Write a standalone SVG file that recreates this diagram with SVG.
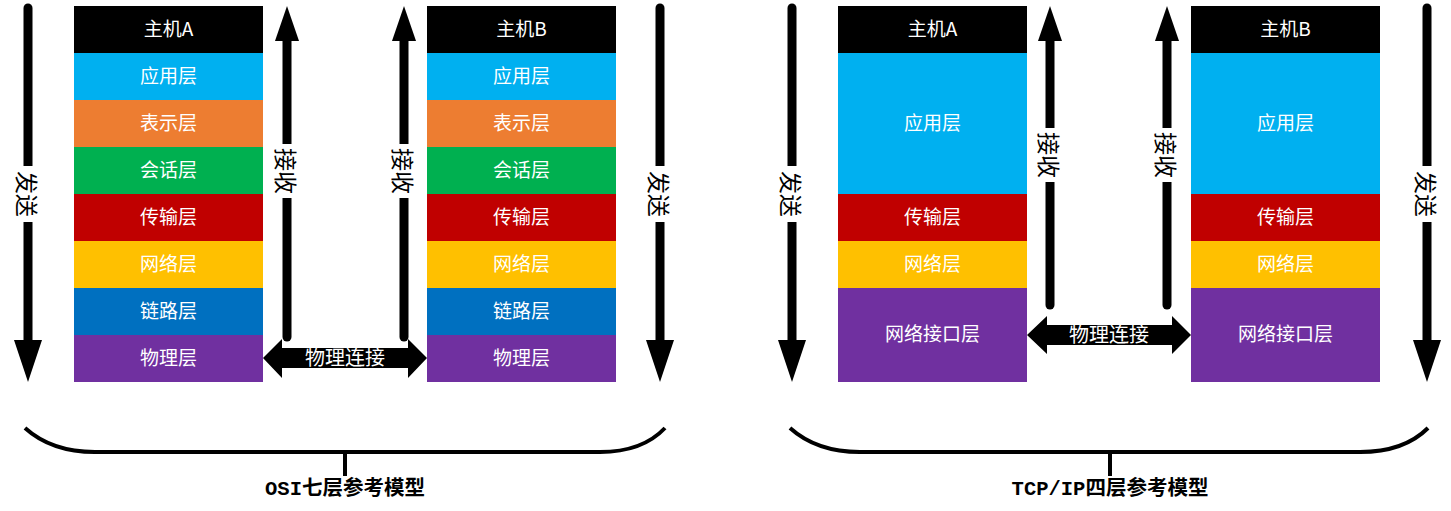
<svg xmlns="http://www.w3.org/2000/svg" width="1451" height="511" viewBox="0 0 1451 511">
<style>
.lbl{font-family:"Noto Sans CJK SC","Liberation Sans",sans-serif;font-size:19px;fill:#fff;text-anchor:middle;dominant-baseline:central}
.vt{font-family:"Noto Sans CJK SC","Liberation Sans",sans-serif;font-size:23px;fill:#000;text-anchor:middle;dominant-baseline:central}
.pl{font-family:"Noto Sans CJK SC","Liberation Sans",sans-serif;font-size:20px;fill:#fff;text-anchor:middle;dominant-baseline:central}
.cap{font-family:"Liberation Mono","Noto Sans CJK SC",monospace;font-size:20.5px;font-weight:bold;fill:#000;text-anchor:middle}
.ln{stroke:#000;stroke-width:9;stroke-linecap:round;fill:none}
.br{stroke:#000;stroke-width:4;fill:none}
</style>
<rect width="1451" height="511" fill="#fff"/>

<!-- OSI host A -->
<g id="osi-hostA">
<rect x="74" y="6" width="189" height="47" fill="#000"/><text class="lbl" x="168.5" y="27">主机A</text>
<rect x="74" y="53" width="189" height="47" fill="#00B0F0"/><text class="lbl" x="168.5" y="74">应用层</text>
<rect x="74" y="100" width="189" height="47" fill="#ED7D31"/><text class="lbl" x="168.5" y="121">表示层</text>
<rect x="74" y="147" width="189" height="47" fill="#00B050"/><text class="lbl" x="168.5" y="168">会话层</text>
<rect x="74" y="194" width="189" height="47" fill="#C00000"/><text class="lbl" x="168.5" y="215">传输层</text>
<rect x="74" y="241" width="189" height="47" fill="#FFC000"/><text class="lbl" x="168.5" y="262">网络层</text>
<rect x="74" y="288" width="189" height="47" fill="#0070C0"/><text class="lbl" x="168.5" y="309">链路层</text>
<rect x="74" y="335" width="189" height="47" fill="#7030A0"/><text class="lbl" x="168.5" y="356">物理层</text>
</g>
<!-- OSI host B -->
<g id="osi-hostB">
<rect x="427" y="6" width="189" height="47" fill="#000"/><text class="lbl" x="521.5" y="27">主机B</text>
<rect x="427" y="53" width="189" height="47" fill="#00B0F0"/><text class="lbl" x="521.5" y="74">应用层</text>
<rect x="427" y="100" width="189" height="47" fill="#ED7D31"/><text class="lbl" x="521.5" y="121">表示层</text>
<rect x="427" y="147" width="189" height="47" fill="#00B050"/><text class="lbl" x="521.5" y="168">会话层</text>
<rect x="427" y="194" width="189" height="47" fill="#C00000"/><text class="lbl" x="521.5" y="215">传输层</text>
<rect x="427" y="241" width="189" height="47" fill="#FFC000"/><text class="lbl" x="521.5" y="262">网络层</text>
<rect x="427" y="288" width="189" height="47" fill="#0070C0"/><text class="lbl" x="521.5" y="309">链路层</text>
<rect x="427" y="335" width="189" height="47" fill="#7030A0"/><text class="lbl" x="521.5" y="356">物理层</text>
</g>

<!-- TCP host A -->
<g id="tcp-hostA">
<rect x="838" y="6" width="189" height="47" fill="#000"/><text class="lbl" x="932.5" y="27">主机A</text>
<rect x="838" y="53" width="189" height="141" fill="#00B0F0"/><text class="lbl" x="932.5" y="121">应用层</text>
<rect x="838" y="194" width="189" height="47" fill="#C00000"/><text class="lbl" x="932.5" y="215">传输层</text>
<rect x="838" y="241" width="189" height="47" fill="#FFC000"/><text class="lbl" x="932.5" y="262">网络层</text>
<rect x="838" y="288" width="189" height="94" fill="#7030A0"/><text class="lbl" x="932.5" y="332">网络接口层</text>
</g>
<!-- TCP host B -->
<g id="tcp-hostB">
<rect x="1191" y="6" width="189" height="47" fill="#000"/><text class="lbl" x="1285.5" y="27">主机B</text>
<rect x="1191" y="53" width="189" height="141" fill="#00B0F0"/><text class="lbl" x="1285.5" y="121">应用层</text>
<rect x="1191" y="194" width="189" height="47" fill="#C00000"/><text class="lbl" x="1285.5" y="215">传输层</text>
<rect x="1191" y="241" width="189" height="47" fill="#FFC000"/><text class="lbl" x="1285.5" y="262">网络层</text>
<rect x="1191" y="288" width="189" height="94" fill="#7030A0"/><text class="lbl" x="1285.5" y="332">网络接口层</text>
</g>

<g id="connectors">
<!-- send arrows -->
<g id="osi-send-left">
<line class="ln" x1="28" y1="8" x2="28" y2="342"/><polygon points="14,340 42,340 28,382"/>
<rect x="18" y="166" width="20" height="56" fill="#fff"/><text class="vt" transform="translate(28,194) rotate(90)">发送</text>
</g>
<g id="osi-send-right">
<line class="ln" x1="660" y1="8" x2="660" y2="342"/><polygon points="646,340 674,340 660,382"/>
<rect x="650" y="166" width="20" height="56" fill="#fff"/><text class="vt" transform="translate(660,194) rotate(90)">发送</text>
</g>
<g id="tcp-send-left">
<line class="ln" x1="792" y1="8" x2="792" y2="342"/><polygon points="778,340 806,340 792,382"/>
<rect x="782" y="166" width="20" height="56" fill="#fff"/><text class="vt" transform="translate(792,194) rotate(90)">发送</text>
</g>
<g id="tcp-send-right">
<line class="ln" x1="1427" y1="8" x2="1427" y2="342"/><polygon points="1413,340 1441,340 1427,382"/>
<rect x="1417" y="166" width="20" height="56" fill="#fff"/><text class="vt" transform="translate(1427,194) rotate(90)">发送</text>
</g>
<!-- receive arrows -->
<g id="osi-recv-left">
<line class="ln" x1="287" y1="337" x2="287" y2="38"/><polygon points="287,6 299,41 275,41"/>
<rect x="277" y="144" width="20" height="54" fill="#fff"/><text class="vt" transform="translate(287,171) rotate(90)">接收</text>
</g>
<g id="osi-recv-right">
<line class="ln" x1="404" y1="337" x2="404" y2="38"/><polygon points="404,6 416,41 392,41"/>
<rect x="394" y="144" width="20" height="54" fill="#fff"/><text class="vt" transform="translate(404,171) rotate(90)">接收</text>
</g>
<g id="tcp-recv-left">
<line class="ln" x1="1050" y1="305" x2="1050" y2="38"/><polygon points="1050,6 1062,41 1038,41"/>
<rect x="1040" y="128" width="20" height="54" fill="#fff"/><text class="vt" transform="translate(1050,155) rotate(90)">接收</text>
</g>
<g id="tcp-recv-right">
<line class="ln" x1="1167" y1="305" x2="1167" y2="38"/><polygon points="1167,6 1179,41 1155,41"/>
<rect x="1157" y="128" width="20" height="54" fill="#fff"/><text class="vt" transform="translate(1167,155) rotate(90)">接收</text>
</g>
<!-- physical links -->
<g id="osi-phys">
<polygon points="263,358 282,339 282,348 408,348 408,339 427,358 408,378 408,368 282,368 282,378"/>
<text class="pl" x="345" y="356">物理连接</text>
</g>
<g id="tcp-phys">
<polygon points="1027,335 1047,316 1047,325 1172,325 1172,316 1191,335 1172,354 1172,345 1047,345 1047,354"/>
<text class="pl" x="1109" y="333">物理连接</text>
</g>
<!-- braces -->
<g id="osi-brace">
<path class="br" d="M25,428 C45,446 70,452 95,452 L600,452 C625,452 648,446 665,428"/>
<line x1="345" y1="452" x2="345" y2="476" stroke="#000" stroke-width="4"/>
<text class="cap" x="345" y="495">OSI七层参考模型</text>
</g>
<g id="tcp-brace">
<path class="br" d="M790,428 C810,446 835,452 860,452 L1360,452 C1385,452 1410,446 1428,428"/>
<line x1="1110" y1="452" x2="1110" y2="476" stroke="#000" stroke-width="4"/>
<text class="cap" x="1110" y="495">TCP/IP四层参考模型</text>
</g>
</g>
</svg>
